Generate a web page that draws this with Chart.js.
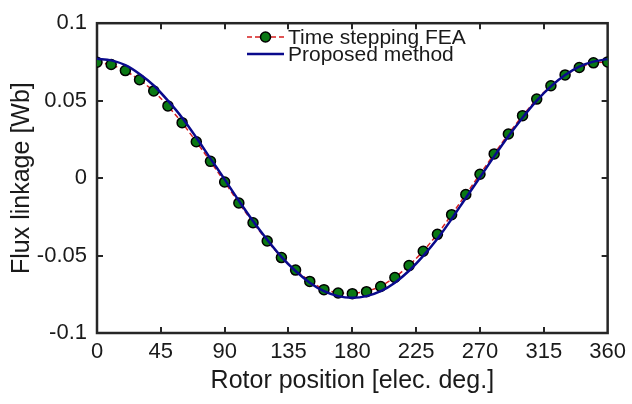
<!DOCTYPE html>
<html>
<head>
<meta charset="utf-8">
<script src="https://cdn.jsdelivr.net/npm/chart.js@4.4.1/dist/chart.umd.min.js"></script>
<style>
  html, body { margin: 0; padding: 0; background: #ffffff; }
  #wrap { width: 632px; height: 404px; position: relative; }
</style>
</head>
<body>
<div id="wrap"><canvas id="c" width="632" height="404"></canvas></div>
<script>
// Rotor position (electrical degrees)
const positions = [0,10,20,30,40,50,60,70,80,90,100,110,120,130,140,150,160,170,180,
                   190,200,210,220,230,240,250,260,270,280,290,300,310,320,330,340,350,360];
// Time stepping FEA flux linkage [Wb]
const feaFlux = [0.0748,0.0733,0.0694,0.0635,0.0563,0.0466,0.0358,0.0235,0.0108,-0.0025,
                 -0.0161,-0.0288,-0.0406,-0.0513,-0.0594,-0.0667,-0.0720,-0.0742,-0.0746,
                 -0.0733,-0.0700,-0.0642,-0.0565,-0.0472,-0.0363,-0.0236,-0.0106,0.0025,
                 0.0156,0.0285,0.0403,0.0510,0.0596,0.0666,0.0714,0.0744,0.0750];
// Proposed method flux linkage [Wb]
const proposedFlux = [0.0770,0.0760,0.0729,0.0672,0.0598,0.0500,0.0390,0.0262,0.0126,-0.0008,
                      -0.0146,-0.0277,-0.0398,-0.0508,-0.0600,-0.0675,-0.0730,-0.0762,-0.0772,
                      -0.0762,-0.0730,-0.0675,-0.0598,-0.0502,-0.0392,-0.0264,-0.0128,0.0005,
                      0.0140,0.0270,0.0390,0.0500,0.0592,0.0665,0.0720,0.0752,0.0768];
const xTicks = [0,45,90,135,180,225,270,315,360];
const yTicks = [-0.1,-0.05,0,0.05,0.1];
const yTickLabels = ['-0.1','-0.05','0','0.05','0.1'];
const legendLabels = ['Time stepping FEA','Proposed method'];

const AXIS_COLOR = '#262626';
const TEXT_COLOR = '#1a1a1a';
const RED = 'rgb(214,30,30)';
const BLUE = 'rgb(10,10,140)';
const GREEN = 'rgb(10,120,20)';
const FONT = '"Liberation Sans", Arial, Helvetica, sans-serif';

const frame = {
  id: 'frame',
  beforeDatasetsDraw(chart) {
    const {ctx, chartArea: a, scales} = chart;
    ctx.save();
    ctx.strokeStyle = AXIS_COLOR;
    ctx.lineWidth = 2;
    const tl = 6;
    ctx.beginPath();
    xTicks.forEach(v => {
      const px = Math.round(scales.x.getPixelForValue(v));
      if (v === xTicks[0] || v === xTicks[xTicks.length-1]) return;
      ctx.moveTo(px, a.bottom); ctx.lineTo(px, a.bottom - tl);
      ctx.moveTo(px, a.top); ctx.lineTo(px, a.top + tl);
    });
    yTicks.forEach(v => {
      const py = Math.round(scales.y.getPixelForValue(v));
      if (v === yTicks[0] || v === yTicks[yTicks.length-1]) return;
      ctx.moveTo(a.left, py); ctx.lineTo(a.left + tl, py);
      ctx.moveTo(a.right, py); ctx.lineTo(a.right - tl, py);
    });
    ctx.stroke();
    ctx.lineWidth = 2.5;
    ctx.strokeRect(a.left, a.top, a.right - a.left, a.bottom - a.top);
    ctx.restore();
  },
  afterDraw(chart) {
    const {ctx} = chart;
    ctx.save();
    const x0 = 247, x1 = 284, y1 = 37, y2 = 54, tx = 288;
    ctx.strokeStyle = RED; ctx.lineWidth = 1.5; ctx.setLineDash([5,3]);
    ctx.beginPath(); ctx.moveTo(x0, y1); ctx.lineTo(x1, y1); ctx.stroke();
    ctx.setLineDash([]);
    ctx.beginPath(); ctx.arc((x0+x1)/2, y1, 5, 0, Math.PI*2);
    ctx.fillStyle = GREEN; ctx.fill();
    ctx.strokeStyle = '#000'; ctx.lineWidth = 1.5; ctx.stroke();
    ctx.strokeStyle = BLUE; ctx.lineWidth = 2.5;
    ctx.beginPath(); ctx.moveTo(x0, y2); ctx.lineTo(x1, y2); ctx.stroke();
    ctx.fillStyle = TEXT_COLOR;
    ctx.font = '21px ' + FONT;
    ctx.textBaseline = 'middle';
    ctx.textAlign = 'left';
    ctx.fillText(legendLabels[0], tx, y1 + 1);
    ctx.fillText(legendLabels[1], tx, y2 + 1);
    ctx.restore();
  }
};

new Chart(document.getElementById('c'), {
  type: 'line',
  data: {
    datasets: [
      {
        label: legendLabels[1],
        data: positions.map((p, i) => ({x: p, y: proposedFlux[i]})),
        borderColor: BLUE,
        borderWidth: 2.5,
        pointRadius: 0,
        cubicInterpolationMode: 'monotone',
        fill: false,
        order: 1
      },
      {
        label: legendLabels[0],
        data: positions.map((p, i) => ({x: p, y: feaFlux[i]})),
        borderColor: RED,
        borderWidth: 1.5,
        borderDash: [5,3],
        pointRadius: 5,
        pointBackgroundColor: GREEN,
        pointBorderColor: '#000',
        pointBorderWidth: 1.5,
        tension: 0,
        fill: false,
        order: 2
      }
    ]
  },
  options: {
    responsive: false,
    animation: false,
    devicePixelRatio: 1,
    layout: { padding: { left: 0, right: 21, top: 13, bottom: 0 } },
    plugins: { legend: { display: false }, tooltip: { enabled: false } },
    scales: {
      x: {
        type: 'linear',
        min: 0, max: 360,
        afterBuildTicks(scale) { scale.ticks = xTicks.map(v => ({value: v})); },
        afterFit(scale) { scale.height = 71; },
        grid: { display: false, drawTicks: false },
        border: { display: false },
        ticks: {
          color: TEXT_COLOR,
          font: { family: FONT, size: 22 },
          padding: 6,
          maxRotation: 0,
          autoSkip: false,
          callback: v => String(v)
        },
        title: {
          display: true,
          text: 'Rotor position [elec. deg.]',
          color: TEXT_COLOR,
          font: { family: FONT, size: 25 },
          padding: { top: 0, bottom: 8 }
        }
      },
      y: {
        type: 'linear',
        min: -0.1, max: 0.1,
        afterBuildTicks(scale) { scale.ticks = yTicks.map(v => ({value: v})); },
        afterFit(scale) { scale.width = 97; },
        grid: { display: false, drawTicks: false },
        border: { display: false },
        ticks: {
          color: TEXT_COLOR,
          font: { family: FONT, size: 22 },
          padding: 10,
          autoSkip: false,
          callback: (v) => {
            const i = yTicks.findIndex(t => Math.abs(t - v) < 1e-9);
            return i >= 0 ? yTickLabels[i] : '';
          }
        },
        title: {
          display: true,
          text: 'Flux linkage [Wb]',
          color: TEXT_COLOR,
          font: { family: FONT, size: 25 },
          padding: { top: 7, bottom: 0 }
        }
      }
    }
  },
  plugins: [frame]
});
</script>
</body>
</html>
